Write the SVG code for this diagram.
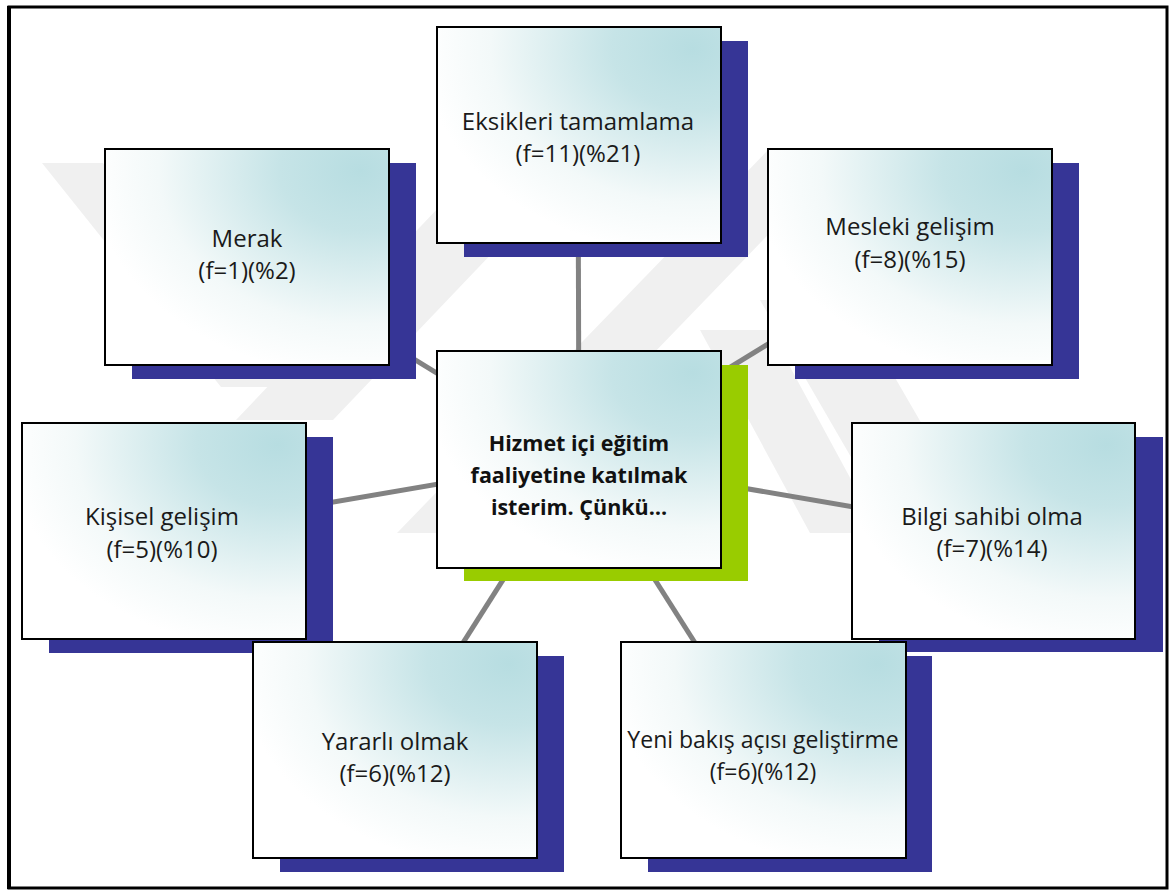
<svg xmlns="http://www.w3.org/2000/svg" width="1170" height="891" viewBox="0 0 1170 891">
<defs>
<radialGradient id="boxGrad" cx="0.9" cy="0.1" r="0.95" fx="0.9" fy="0.1">
<stop offset="0" stop-color="#b7dde1"/>
<stop offset="0.3" stop-color="#c6e4e7"/>
<stop offset="0.75" stop-color="#f3f9f9"/>
<stop offset="1" stop-color="#ffffff"/>
</radialGradient>
<style>
.wm{fill:#f0f0f0}
.conn{stroke:#828282;stroke-width:5;fill:none}
.sh{fill:#363596}
.shg{fill:#99cc00}
.box{fill:url(#boxGrad);stroke:#000;stroke-width:2}
.t{font-family:"Open Sans","Liberation Sans",sans-serif;font-size:24px;fill:#1a1a1a;text-anchor:middle}
.tb{font-family:"Open Sans","Liberation Sans",sans-serif;font-size:21.5px;font-weight:bold;fill:#111;text-anchor:middle}
</style>
</defs>
<rect x="0" y="0" width="1170" height="891" fill="#fff"/>
<g id="watermark">
<polygon class="wm" points="42,163 103,163 282,387 221,387"/>
<polygon class="wm" points="236,420 333,420 600,140 503,140"/>
<polygon class="wm" points="397,533 480,533 850,150 768,150"/>
<polygon class="wm" points="700,330 770,330 880,533 810,533"/>
<polygon class="wm" points="760,300 850,300 985,533 895,533"/>
</g>
<g id="frame">
<rect x="9" y="7" width="1158" height="881" fill="none" stroke="#000" stroke-width="3"/>
<line x1="9" y1="6" x2="9" y2="889" stroke="#000" stroke-width="4"/>
</g>
<g id="connectors">
<line class="conn" x1="579" y1="460" x2="578" y2="135"/>
<line class="conn" x1="579" y1="460" x2="247" y2="257"/>
<line class="conn" x1="579" y1="460" x2="910" y2="257"/>
<line class="conn" x1="579" y1="460" x2="164" y2="531"/>
<line class="conn" x1="579" y1="460" x2="994" y2="531"/>
<line class="conn" x1="579" y1="460" x2="395" y2="750"/>
<line class="conn" x1="579" y1="460" x2="763" y2="750"/>
</g>
<g id="n_eksik">
<rect class="sh" x="464" y="41" width="284" height="216"/>
<rect class="box" x="437" y="27" width="284" height="216"/>
<text class="t" x="578" y="130">Eksikleri tamamlama</text>
<text class="t" x="578" y="162">(f=11)(%21)</text>
</g>
<g id="n_merak">
<rect class="sh" x="132" y="163" width="284" height="216"/>
<rect class="box" x="105" y="149" width="284" height="216"/>
<text class="t" x="247" y="247">Merak</text>
<text class="t" x="247" y="279">(f=1)(%2)</text>
</g>
<g id="n_mesleki">
<rect class="sh" x="795" y="163" width="284" height="216"/>
<rect class="box" x="768" y="149" width="284" height="216"/>
<text class="t" x="910" y="235">Mesleki gelişim</text>
<text class="t" x="910" y="268">(f=8)(%15)</text>
</g>
<g id="n_center">
<rect class="shg" x="464" y="365" width="284" height="216"/>
<rect class="box" x="437" y="351" width="284" height="217"/>
<text class="tb" x="579" y="451">Hizmet içi eğitim</text>
<text class="tb" x="579" y="483">faaliyetine katılmak</text>
<text class="tb" x="579" y="515">isterim. Çünkü…</text>
</g>
<g id="n_kisisel">
<rect class="sh" x="49" y="437" width="284" height="216"/>
<rect class="box" x="22" y="423" width="284" height="216"/>
<text class="t" x="162" y="525">Kişisel gelişim</text>
<text class="t" x="162" y="558">(f=5)(%10)</text>
</g>
<g id="n_bilgi">
<rect class="sh" x="879" y="437" width="284" height="215"/>
<rect class="box" x="852" y="423" width="283" height="216"/>
<text class="t" x="992" y="525">Bilgi sahibi olma</text>
<text class="t" x="992" y="557">(f=7)(%14)</text>
</g>
<g id="n_yararli">
<rect class="sh" x="280" y="656" width="284" height="216"/>
<rect class="box" x="253" y="642" width="284" height="216"/>
<text class="t" x="395" y="750">Yararlı olmak</text>
<text class="t" x="395" y="782">(f=6)(%12)</text>
</g>
<g id="n_yeni">
<rect class="sh" x="648" y="656" width="284" height="216"/>
<rect class="box" x="621" y="642" width="285" height="216"/>
<text class="t" x="763" y="748" style="font-size:23px">Yeni bakış açısı geliştirme</text>
<text class="t" x="763" y="780" style="font-size:23px">(f=6)(%12)</text>
</g>
</svg>
